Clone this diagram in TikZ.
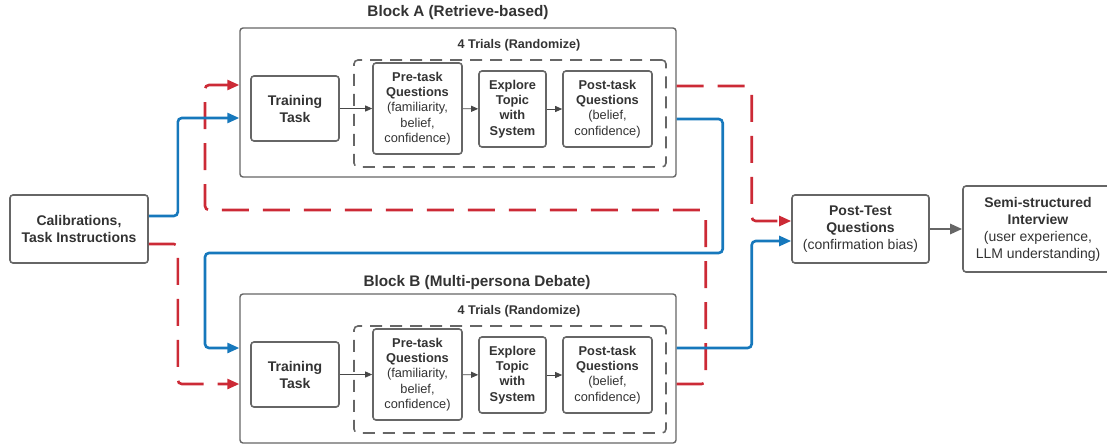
\documentclass[tikz,border=0pt]{standalone}
\usepackage{fontspec}
\setmainfont{Liberation Sans}
\usepackage{tikz}
\usetikzlibrary{arrows.meta}

\definecolor{boxgray}{RGB}{102,102,102}
\definecolor{textgray}{RGB}{51,51,51}
\definecolor{flowblue}{RGB}{22,120,188}
\definecolor{flowred}{RGB}{204,42,54}

\begin{document}
\begin{tikzpicture}[x=1pt, y=-1pt,
  every node/.append style={text=textgray, align=center, inner sep=0pt},
  bigbox/.style={draw=boxgray, line width=1.6pt, rounded corners=3pt,
    font=\fontsize{14}{17}\selectfont},
  smallbox/.style={draw=boxgray, line width=1.6pt, rounded corners=3pt,
    font=\fontsize{12.8}{15.3}\selectfont},
  blockbox/.style={draw=boxgray, line width=1.4pt, rounded corners=3pt,
    minimum width=436pt, minimum height=149pt},
  trialbox/.style={draw=boxgray, line width=1.6pt, rounded corners=4pt,
    dash pattern=on 12pt off 8pt, minimum width=312pt, minimum height=107pt},
  blocktitle/.style={font=\fontsize{15.3}{18}\selectfont\bfseries},
  trialtitle/.style={font=\fontsize{12.6}{15}\selectfont\bfseries},
  step arrow/.style={draw=textgray!90, line width=0.8pt,
    -{Triangle[length=7pt,width=6pt]}},
  blueflow/.style={draw=flowblue, line width=2.6pt, rounded corners=4pt,
    -{Triangle[length=12pt,width=10pt]}},
  redflow/.style={draw=flowred, line width=2.6pt, rounded corners=4pt,
    dash pattern=on 27pt off 14pt, -{Triangle[length=12pt,width=10pt]}}]
\useasboundingbox (0,0) rectangle (1107,445);

% start and end
\node[bigbox, minimum width=138pt, minimum height=68pt] (cal) at (79,229)
  {\textbf{Calibrations,}\\\textbf{Task Instructions}};
\node[bigbox, minimum width=137pt, minimum height=68pt] (posttest) at (860.5,229)
  {\textbf{Post-Test}\\\textbf{Questions}\\(confirmation bias)};
\node[bigbox, minimum width=150pt, minimum height=86pt] (interview) at (1038,229)
  {\textbf{Semi-structured}\\\textbf{Interview}\\(user experience,\\LLM understanding)};

% block A
\node[blockbox] (blockA) at (458,102.5) {};
\node[blocktitle] (titleA) at (458,13) {Block A (Retrieve-based)};
\node[trialbox] (trialsA) at (510,113.5) {};
\node[trialtitle] (trialtitleA) at (519,45) {4 Trials (Randomize)};
\node[bigbox, minimum width=88pt, minimum height=65pt] (trainA) at (295,108.5)
  {\textbf{Training}\\\textbf{Task}};
\node[smallbox, minimum width=89pt, minimum height=91pt] (preA) at (417.5,108.5)
  {\textbf{Pre-task}\\\textbf{Questions}\\(familiarity,\\belief,\\confidence)};
\node[smallbox, minimum width=67pt, minimum height=76pt] (exploreA) at (512.5,109)
  {\textbf{Explore}\\\textbf{Topic}\\\textbf{with}\\\textbf{System}};
\node[smallbox, minimum width=89pt, minimum height=76pt] (postA) at (607.5,109)
  {\textbf{Post-task}\\\textbf{Questions}\\(belief,\\confidence)};

% block B
\node[blockbox] (blockB) at (458,368.5) {};
\node[blocktitle] (titleB) at (477,283) {Block B (Multi-persona Debate)};
\node[trialbox] (trialsB) at (510,379.5) {};
\node[trialtitle] (trialtitleB) at (519,311) {4 Trials (Randomize)};
\node[bigbox, minimum width=88pt, minimum height=65pt] (trainB) at (295,374.5)
  {\textbf{Training}\\\textbf{Task}};
\node[smallbox, minimum width=89pt, minimum height=91pt] (preB) at (417.5,374.5)
  {\textbf{Pre-task}\\\textbf{Questions}\\(familiarity,\\belief,\\confidence)};
\node[smallbox, minimum width=67pt, minimum height=76pt] (exploreB) at (512.5,375)
  {\textbf{Explore}\\\textbf{Topic}\\\textbf{with}\\\textbf{System}};
\node[smallbox, minimum width=89pt, minimum height=76pt] (postB) at (607.5,375)
  {\textbf{Post-task}\\\textbf{Questions}\\(belief,\\confidence)};

% steps inside the blocks
\draw[step arrow] (trainA) -- (preA);
\draw[step arrow] (preA) -- (exploreA);
\draw[step arrow] (exploreA) -- (postA);
\draw[step arrow] (trainB) -- (preB);
\draw[step arrow] (preB) -- (exploreB);
\draw[step arrow] (exploreB) -- (postB);
\draw[draw=boxgray, line width=2.6pt, -{Triangle[length=12pt,width=10pt]}]
  (posttest) -- (interview);

% order B then A
\draw[redflow] ([yshift=-15pt]cal.east) -- ++(29pt,0) |- ([yshift=-15.5pt]blockB.west);
\draw[redflow] ([yshift=-15.5pt]blockB.east) -- ++(29pt,0) |- (205,210)
  |- ([yshift=17.5pt]blockA.west);
\draw[redflow] ([yshift=16.5pt]blockA.east) -- ++(75pt,0) |- ([yshift=8pt]posttest.west);

% order A then B
\draw[blueflow] ([yshift=13pt]cal.east) -- ++(29pt,0) |- ([yshift=-15.5pt]blockA.west);
\draw[blueflow] ([yshift=-16.5pt]blockA.east) -- ++(46pt,0) |- (205,253)
  |- ([yshift=20.5pt]blockB.west);
\draw[blueflow] ([yshift=20.5pt]blockB.east) -- ++(75pt,0) |- ([yshift=-12pt]posttest.west);
\end{tikzpicture}
\end{document}
